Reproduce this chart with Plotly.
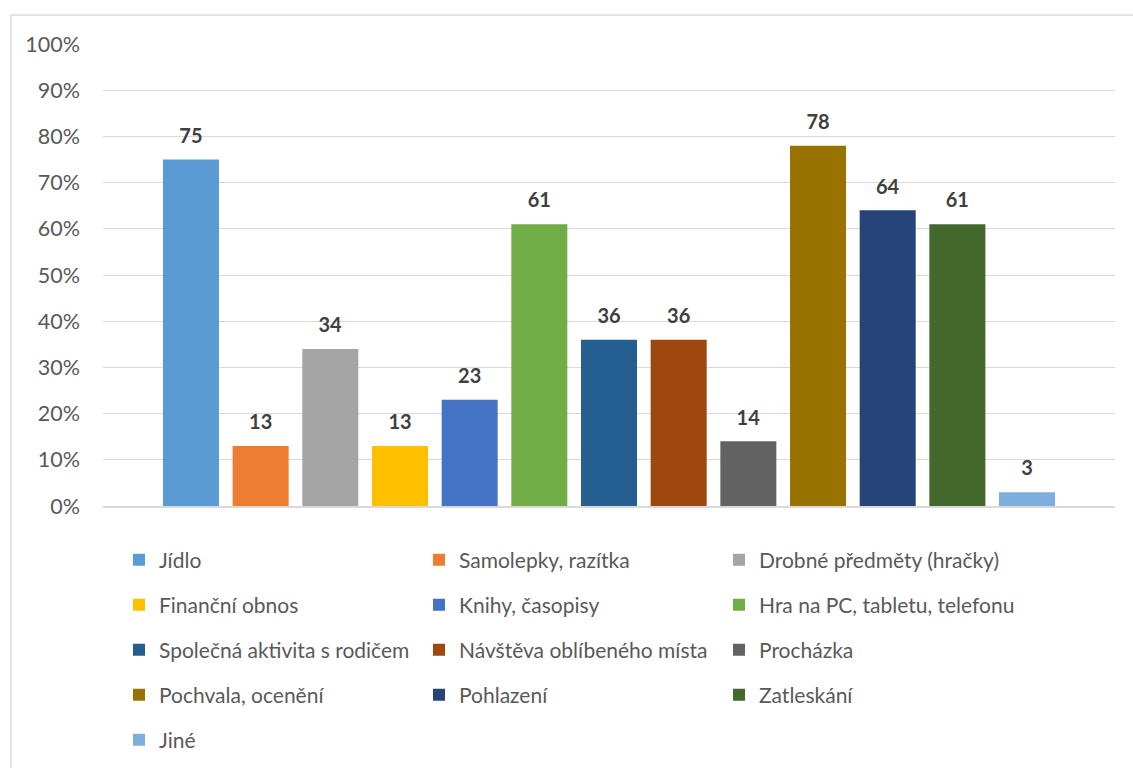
import plotly.graph_objects as go

categories = ["Jídlo", "Samolepky, razítka", "Drobné předměty (hračky)",
              "Finanční obnos", "Knihy, časopisy", "Hra na PC, tabletu, telefonu",
              "Společná aktivita s rodičem", "Návštěva oblíbeného místa", "Procházka",
              "Pochvala, ocenění", "Pohlazení", "Zatleskání", "Jiné"]
values = [75, 13, 34, 13, 23, 61, 36, 36, 14, 78, 64, 61, 3]
colors = ["#5B9BD5", "#ED7D31", "#A5A5A5", "#FFC000", "#4472C4", "#70AD47",
          "#255E91", "#9E480E", "#636363", "#997300", "#264478", "#43682B", "#7CAFDD"]
y_ticks = [0, 10, 20, 30, 40, 50, 60, 70, 80, 90, 100]
y_ticktext = ["0%", "10%", "20%", "30%", "40%", "50%", "60%", "70%", "80%", "90%", "100%"]

W, H = 1133, 768
L, R, T, B = 103, 18, 44, 262
PW, PH = W - L - R, H - T - B

FONT = "Lato"
fig = go.Figure()
legend_names = ["legend", "legend2", "legend3", "legend4", "legend5"]
for i, (name, v, c) in enumerate(zip(categories, values, colors)):
    fig.add_trace(go.Bar(
        x=[""], y=[v], name=name, marker=dict(color=c, line=dict(width=0)),
        text=[v],
        texttemplate="<span style='font-size:20px'><b>%{text}</b></span><br> ",
        textposition="outside", cliponaxis=False,
        textfont=dict(family=FONT, size=9, color="#404040"),
        legend=legend_names[i // 3],
    ))

rows_y = [560, 605, 650, 695, 740]
legends = {}
for k, ln in enumerate(legend_names):
    legends[ln] = dict(
        orientation="h", x=(119 - L) / PW, xanchor="left",
        y=(H - B - rows_y[k]) / PH, yanchor="middle",
        entrywidth=255, entrywidthmode="pixels",
        font=dict(family=FONT, size=21, color="#595959"),
        bgcolor="rgba(0,0,0,0)", itemclick=False, traceorder="normal",
    )

fig.update_layout(
    width=W, height=H,
    margin=dict(l=L, r=R, t=T, b=B, autoexpand=False),
    paper_bgcolor="white", plot_bgcolor="white",
    barmode="group", bargap=0.105, bargroupgap=0.196,
    font=dict(family=FONT, color="#595959"),
    xaxis=dict(showticklabels=False, showgrid=False, showline=True,
               linecolor="#D9D9D9", linewidth=1.5, ticks="", zeroline=False),
    yaxis=dict(range=[0, 100], tickmode="array", tickvals=y_ticks, ticktext=y_ticktext,
               showgrid=True, gridcolor="#D9D9D9", gridwidth=1.3,
               zeroline=False, showline=False, ticks="",
               tickfont=dict(family=FONT, size=21.5, color="#595959"),
               ticklabelstandoff=22),
    showlegend=True,
    shapes=[dict(type="rect", xref="paper", yref="paper",
                 x0=(11 - L) / PW, x1=(1150 - L) / PW,
                 y0=(H - B - 15) / PH, y1=(H - B - 790) / PH,
                 line=dict(color="#D9D9D9", width=1.5), fillcolor="rgba(0,0,0,0)",
                 layer="below")],
    **legends,
)

fig.write_html("out.html")
